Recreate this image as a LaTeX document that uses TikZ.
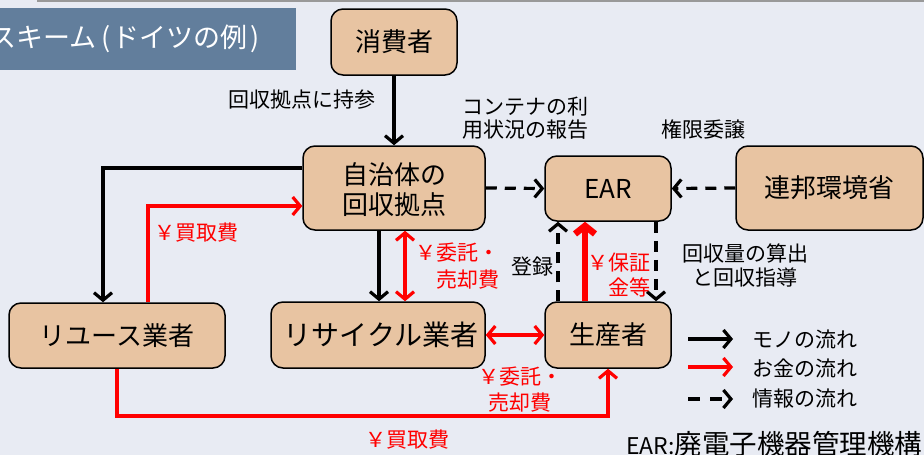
\documentclass[tikz,border=0pt]{standalone}
\usepackage{fontspec}
\setmainfont{Noto Sans CJK JP}
\usetikzlibrary{arrows.meta}
\definecolor{bg}{HTML}{E8EBF3}
\definecolor{boxfill}{HTML}{E8C4A2}
\definecolor{titlebg}{HTML}{627E9C}
\definecolor{myred}{HTML}{FF0000}
\begin{document}
\begin{tikzpicture}[x=1pt,y=-1pt,
  box/.style={draw=black,line width=1.5pt,fill=boxfill,rounded corners=12pt,inner sep=0pt,font=\fontsize{26}{30}\selectfont,align=center},
  lbl/.style={inner sep=0pt,font=\fontsize{21}{24}\selectfont},
  rlbl/.style={lbl,text=myred},
  blk/.style={line width=3.2pt,draw=black,-{Straight Barb[length=7.5pt,width=18pt]}},
  dsh/.style={line width=3.2pt,draw=black,dash pattern=on 11pt off 8pt,-{Straight Barb[length=7.5pt,width=18pt]}},
  rd/.style={line width=3.2pt,draw=myred,-{Straight Barb[length=7.5pt,width=18pt]}},
  rdd/.style={line width=3.2pt,draw=myred,{Straight Barb[length=7.5pt,width=18pt]}-{Straight Barb[length=7.5pt,width=18pt]}},
  rthick/.style={line width=6.5pt,draw=myred,-{Straight Barb[length=8pt,width=20pt]}}
]
\fill[bg] (0,0) rectangle (924,455);
\useasboundingbox (0,0) rectangle (924,455);
\draw[black!40,line width=1.5pt] (37,0.75) -- (924,0.75);
% title
\fill[titlebg] (0,8) rectangle (296,70);
\node[anchor=west,inner sep=0pt,text=white,font=\fontsize{27}{30}\selectfont] (title) at (-11,39) {スキーム\hspace{5pt}(\hspace{2pt}ドイツの例\hspace{3pt})};
% boxes
\node[box,minimum width=126pt,minimum height=66pt] (cons) at (394,42) {消費者};
\node[box,minimum width=182pt,minimum height=84pt] (muni) at (394,188) {\raisebox{-5pt}[\height][\depth]{\begin{tabular}{@{}c@{}}自治体の\\[-1pt]回収拠点\end{tabular}}};
\node[box,minimum width=126pt,minimum height=65pt] (ear) at (608,188.5) {EAR};
\node[box,minimum width=187pt,minimum height=84pt] (fed) at (829.5,188) {連邦環境省};
\node[box,minimum width=216pt,minimum height=65pt] (reuse) at (117,335.5) {リユース業者};
\node[box,minimum width=214pt,minimum height=66pt,font=\fontsize{28}{30}\selectfont] (recycle) at (378,335) {\hspace{6pt}リサイクル業者};
\node[box,minimum width=126pt,minimum height=66pt] (prod) at (608,335) {生産者};
% connectors
\draw[blk] (cons.south) -- (muni.north);
\draw[dsh] (muni.east) -- (ear.west);
\draw[dsh] (fed.west) -- (ear.east);
\draw[blk] (muni.west |- 0,168) -| (reuse.north -| 103,0);
\draw[rd] (reuse.north -| 148,0) |- (muni.west |- 0,206);
\draw[blk] (muni.south -| 379,0) -- (recycle.north -| 379,0);
\draw[rdd] (muni.south -| 405,0) -- (recycle.north -| 405,0);
\draw[rdd] (recycle.east) -- (prod.west);
\draw[dsh] (prod.north -| 558,0) -- (ear.south -| 558,0);
\draw[rthick] (prod.north -| 585,0) -- (ear.south -| 585,0);
\draw[dsh] (ear.south -| 656,0) -- (prod.north -| 656,0);
\draw[rd] (reuse.south) |- (prod.south |- 0,416) -- (prod.south);
% labels
\node[lbl] (l1) at (302,100) {回収拠点に持参};
\node[lbl,anchor=west,align=left,font=\fontsize{21}{23}\selectfont] (l2) at (462,118.5) {コンテナの利\\用状況の報告};
\node[lbl] (l3) at (703,129) {権限委譲};
\node[rlbl] (l4) at (196,233) {￥買取費};
\node[rlbl,align=right,font=\fontsize{21}{27}\selectfont] (l5) at (457,266.5) {￥委託・\\売却費};
\node[lbl] (l6) at (532,267) {登録};
\node[rlbl,align=right,font=\fontsize{21}{25}\selectfont] (l7) at (619,275.5) {￥保証\\金等};
\node[lbl,align=center,font=\fontsize{21}{24}\selectfont] (l8) at (745,265) {回収量の算出\\と回収指導};
\node[rlbl,align=center,font=\fontsize{21}{26}\selectfont] (l9) at (520,390) {￥委託・\\売却費};
\node[rlbl] (l10) at (407,440) {￥買取費};
% legend
\coordinate (la1) at (688,339); \coordinate (lb1) at (733,339);
\coordinate (la2) at (688,367); \coordinate (lb2) at (733,367);
\coordinate (la3) at (688,399); \coordinate (lb3) at (733,399);
\draw[blk] (la1) -- (lb1);
\draw[rd] (la2) -- (lb2);
\draw[dsh,dash pattern=on 12pt off 10pt] (la3) -- (lb3);
\node[lbl,anchor=west] (lt1) at (752,339) {モノの流れ};
\node[lbl,anchor=west] (lt2) at (752,368) {お金の流れ};
\node[lbl,anchor=west] (lt3) at (752,399) {情報の流れ};
\node[anchor=west,inner sep=0pt,font=\fontsize{27.5}{30}\selectfont] (earname) at (626,444) {{\fontsize{23}{28}\selectfont EAR:}廃電子機器管理機構};
\end{tikzpicture}
\end{document}
